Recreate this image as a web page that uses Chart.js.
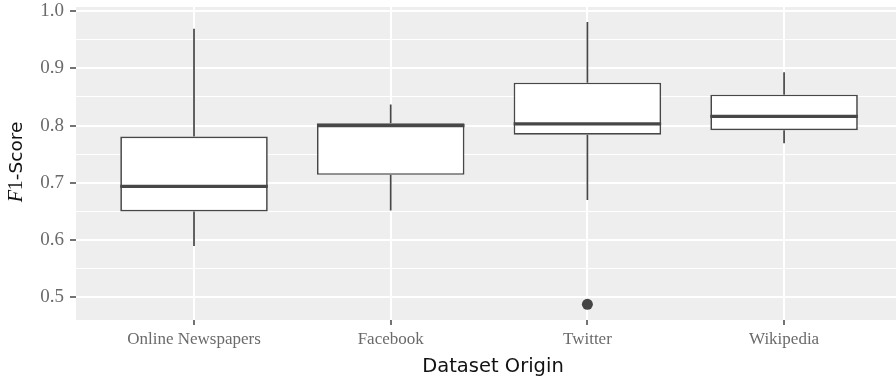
<!DOCTYPE html>
<html>
<head>
<meta charset="utf-8">
<script src="https://cdn.jsdelivr.net/npm/chart.js@4.4.0/dist/chart.umd.min.js"></script>
<style>
  html, body { margin: 0; padding: 0; background: #fff; overflow: hidden; }
  #wrap { width: 896px; height: 377px; position: relative; }
</style>
</head>
<body>
<div id="wrap"><canvas id="chart"></canvas></div>
<script>
// box plot stats
const categories = ['Online Newspapers', 'Facebook', 'Twitter', 'Wikipedia'];
const whiskerLow  = [0.590, 0.652, 0.670, 0.769];
const q1          = [0.650, 0.714, 0.784, 0.792];
const median      = [0.694, 0.800, 0.803, 0.816];
const q3          = [0.781, 0.804, 0.875, 0.854];
const whiskerHigh = [0.969, 0.837, 0.981, 0.893];
const outlierCat  = ['Twitter'];
const outlierVal  = [0.488];
const yTicks = [0.5, 0.6, 0.7, 0.8, 0.9, 1.0];
const yMinorTicks = [0.55, 0.65, 0.75, 0.85, 0.95];

const LINE = '#474747';

function isMajor(v) {
    return yTicks.some(t => Math.abs(t - v) < 1e-6);
}

// panel background
const panelBg = {
    id: 'panelBg',
    beforeDraw(chart) {
        const a = chart.chartArea, ctx = chart.ctx;
        ctx.save();
        ctx.fillStyle = '#eeeeee';
        ctx.fillRect(a.left, a.top, a.right - a.left, a.bottom - a.top);
        ctx.restore();
    }
};

// whiskers + median lines
const boxExtras = {
    id: 'boxExtras',
    afterDatasetsDraw(chart) {
        const ctx = chart.ctx;
        const xs = chart.scales.x, ys = chart.scales.y;
        const bars = chart.getDatasetMeta(0).data;
        ctx.save();
        ctx.strokeStyle = LINE;
        categories.forEach((c, i) => {
            const x = xs.getPixelForValue(i);
            ctx.lineWidth = 1.7;
            ctx.beginPath();
            ctx.moveTo(x, ys.getPixelForValue(q3[i]));
            ctx.lineTo(x, ys.getPixelForValue(whiskerHigh[i]));
            ctx.moveTo(x, ys.getPixelForValue(q1[i]));
            ctx.lineTo(x, ys.getPixelForValue(whiskerLow[i]));
            ctx.stroke();
            const half = bars[i].width / 2;
            ctx.lineWidth = 3.2;
            ctx.beginPath();
            const my = ys.getPixelForValue(median[i]);
            ctx.moveTo(x - half, my);
            ctx.lineTo(x + half, my);
            ctx.stroke();
        });
        ctx.restore();
    }
};

// axis titles (F italic like the LaTeX original)
const axisTitles = {
    id: 'axisTitles',
    afterDraw(chart) {
        const ctx = chart.ctx;
        ctx.save();
        ctx.fillStyle = '#111';
        ctx.textBaseline = 'alphabetic';
        ctx.textAlign = 'center';
        ctx.font = '19.5px "DejaVu Sans"';
        ctx.fillText('Dataset Origin', 493, 371.5);

        ctx.translate(21.5, 162);
        ctx.rotate(-Math.PI / 2);
        ctx.textAlign = 'left';
        const parts = [
            ['F', 'italic 20px "Liberation Serif"'],
            ['1', '20px "Liberation Serif"'],
            ['-Score', '18.5px "DejaVu Sans"']
        ];
        let total = 0;
        parts.forEach(p => { ctx.font = p[1]; total += ctx.measureText(p[0]).width; });
        let x = -total / 2;
        parts.forEach(p => {
            ctx.font = p[1];
            ctx.fillText(p[0], x, 0);
            x += ctx.measureText(p[0]).width;
        });
        ctx.restore();
    }
};

const config = {
    type: 'bar',
    data: {
        datasets: [{
            data: categories.map((c, i) => ({ x: i, y: [q1[i], q3[i]] })),
            backgroundColor: '#ffffff',
            borderColor: LINE,
            borderWidth: 1.7,
            borderSkipped: false,
            barPercentage: 0.75,
            categoryPercentage: 1
        }, {
            type: 'scatter',
            data: outlierCat.map((c, i) => ({ x: categories.indexOf(c), y: outlierVal[i] })),
            backgroundColor: '#444444',
            borderWidth: 0,
            pointRadius: 5.5
        }]
    },
    options: {
        responsive: true,
        maintainAspectRatio: false,
        animation: false,
        layout: { autoPadding: false, padding: { top: 7, left: 0, right: 0, bottom: 0 } },
        plugins: {
            legend: { display: false },
            tooltip: { enabled: false }
        },
        scales: {
            x: {
                type: 'linear',
                offset: false,
                min: -0.6,
                max: 3.569,
                afterBuildTicks: s => { s.ticks = categories.map((c, i) => ({ value: i })); },
                afterFit: s => {
                    s.height = 57;
                    s.paddingLeft = 0; s.paddingRight = 0;
                },
                border: { display: false },
                grid: {
                    offset: false,
                    color: '#ffffff',
                    lineWidth: 2,
                    tickColor: '#444',
                    tickLength: 5,
                    tickWidth: 1.5
                },
                ticks: {
                    autoSkip: false,
                    maxRotation: 0,
                    padding: 4,
                    color: '#6a6a6a',
                    font: { family: '"Liberation Serif"', size: 17 },
                    callback: v => categories[v]
                }
            },
            y: {
                type: 'linear',
                min: 0.4607,
                max: 1.007,
                afterBuildTicks: s => {
                    s.ticks = yTicks.concat(yMinorTicks).sort((a, b) => a - b).map(v => ({ value: v }));
                },
                afterFit: s => {
                    s.width = 76;
                    s.paddingTop = 0; s.paddingBottom = 0;
                },
                border: { display: false },
                grid: {
                    color: '#ffffff',
                    lineWidth: c => isMajor(c.tick.value) ? 2 : 1,
                    tickColor: c => isMajor(c.tick.value) ? '#444' : 'rgba(0,0,0,0)',
                    tickLength: 6,
                    tickWidth: 1.5
                },
                ticks: {
                    autoSkip: false,
                    padding: 6,
                    color: '#6a6a6a',
                    font: { family: '"Liberation Serif"', size: 19 },
                    callback: v => isMajor(v) ? v.toFixed(1) : ''
                }
            }
        }
    },
    plugins: [panelBg, boxExtras, axisTitles]
};

const myChart = new Chart(document.getElementById('chart'), config);
</script>
</body>
</html>
